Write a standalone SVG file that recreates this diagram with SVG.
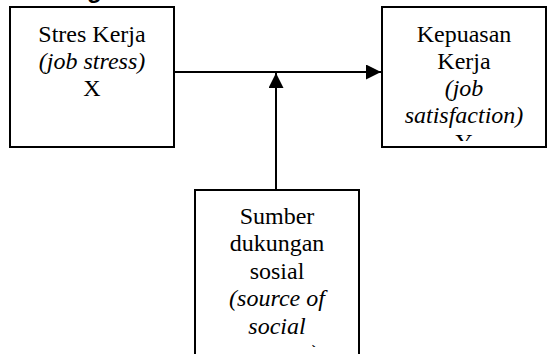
<svg xmlns="http://www.w3.org/2000/svg" width="548" height="354" viewBox="0 0 548 354">
  <style>
    .box { fill: #fff; stroke: #000; stroke-width: 2; }
    .conn { stroke: #000; stroke-width: 2; fill: none; }
    .node { font-family: "Liberation Serif", "Times New Roman", serif; font-size: 24px; text-anchor: middle; fill: #000; }
  </style>
  <defs>
    <marker id="arrow" markerUnits="userSpaceOnUse" markerWidth="15" markerHeight="15" refX="15" refY="7.5" orient="auto">
      <path d="M0,0 L15,7.5 L0,15 Z" fill="#000"/>
    </marker>
    <clipPath id="clipY"><rect x="383" y="8" width="162" height="133"/></clipPath>
    <clipPath id="clipM"><rect x="196" y="191" width="162" height="156"/></clipPath>
  </defs>
  <rect width="548" height="354" fill="#fff"/>
  <text x="19" y="-2.5" font-family="Liberation Sans, Arial, sans-serif" font-size="24" font-weight="bold" fill="#000">Kerangka Pemikiran</text>

  <g id="connectors">
    <path class="conn" d="M174,72 H381" marker-end="url(#arrow)"/>
    <path class="conn" d="M276,190 V73" marker-end="url(#arrow)"/>
  </g>

  <g id="node-x" class="node">
    <rect class="box" x="10" y="7" width="164" height="140"/>
    <text x="92" y="41.5">Stres Kerja</text>
    <text x="92" y="68.5" font-style="italic">(job stress)</text>
    <text x="92" y="96">X</text>
  </g>

  <g id="node-y" class="node">
    <rect class="box" x="382" y="7" width="164" height="140"/>
    <g clip-path="url(#clipY)">
      <text x="464" y="41.5">Kepuasan</text>
      <text x="464" y="68.5">Kerja</text>
      <text x="464" y="96" font-style="italic">(job</text>
      <text x="464" y="123" font-style="italic">satisfaction)</text>
      <text x="464" y="150">Y</text>
    </g>
  </g>

  <g id="node-m" class="node">
    <rect class="box" x="195" y="190" width="164" height="200"/>
    <g clip-path="url(#clipM)">
      <text x="277" y="223.5">Sumber</text>
      <text x="277" y="251">dukungan</text>
      <text x="277" y="278.5">sosial</text>
      <text x="277" y="306" font-style="italic">(source of</text>
      <text x="277" y="333.5" font-style="italic">social</text>
      <text x="277" y="361" font-style="italic">support)</text>
    </g>
  </g>
</svg>
